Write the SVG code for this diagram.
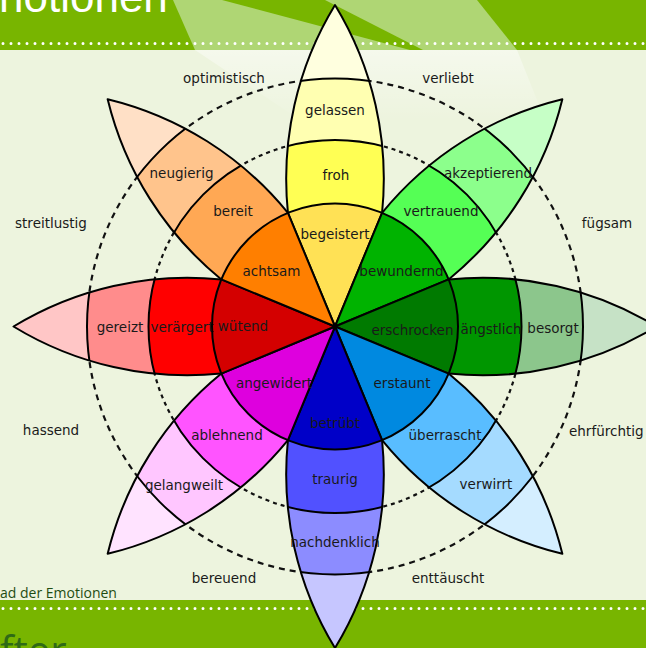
<svg xmlns="http://www.w3.org/2000/svg" xmlns:xlink="http://www.w3.org/1999/xlink" width="646" height="648" viewBox="0 0 646 648">
<style>
.l{font-family:"DejaVu Sans","Liberation Sans",sans-serif;font-size:13.5px;fill:#1a1a1a;text-anchor:middle}
.ol{fill:none;stroke:#000;stroke-width:2;stroke-linejoin:round}
.bd{stroke:#000;stroke-width:2}
.dash1{fill:none;stroke:#111;stroke-width:2.2;stroke-dasharray:6 5}
.dash2{fill:none;stroke:#111;stroke-width:2.2;stroke-dasharray:4 4}
.dots{stroke:#fff;stroke-width:3;stroke-linecap:round;stroke-dasharray:0 8}
</style>
<defs>
<path id="petal" d="M0,0 L113.64,-47.07 A334,334 0 0,1 321.5,0 A334,334 0 0,1 113.64,47.07 Z"/>
<path id="sector" d="M0,0 L113.64,-47.07 A123,123 0 0,1 113.64,47.07 Z"/>
<clipPath id="pc"><use xlink:href="#petal"/></clipPath>
<linearGradient id="sheen" x1="0" y1="0" x2="0" y2="1">
<stop offset="0" stop-color="#fff" stop-opacity="0.45"/>
<stop offset="1" stop-color="#fff" stop-opacity="0"/>
</linearGradient>
</defs>

<g id="background">
<rect width="646" height="648" fill="#edf4de"/>
<polygon points="195,50 517,50 545,120 300,120" fill="url(#sheen)"/>
<rect width="646" height="50" fill="#78b500"/>
<polygon points="173,0 222,0 410,50 195,50" fill="#afd674"/>
<polygon points="325,0 477,0 517,50 423,50" fill="#afd674"/>
<text x="-1" y="12" font-family="Liberation Sans,Arial,sans-serif" font-size="44" fill="#fff">notionen</text>
<line class="dots" x1="3" y1="43.5" x2="646" y2="43.5"/>
<rect y="600" width="646" height="48" fill="#78b500"/>
<line class="dots" x1="3" y1="608.5" x2="646" y2="608.5"/>
<text x="0" y="665" font-family="Open Sans,sans-serif" font-size="40" fill="#2f6a16">fter</text>
<text x="0" y="598" font-family="Open Sans,Liberation Sans,sans-serif" font-size="14" fill="#1f4d12">ad der Emotionen</text>
</g>

<g id="connectors">
<circle class="dash1" cx="335" cy="326.5" r="248"/>
<circle class="dash2" cx="335" cy="326.5" r="186.5"/>
</g>

<g id="joy">
<g transform="translate(335,326.5) rotate(-90)">
<g clip-path="url(#pc)">
<use xlink:href="#petal" fill="#ffffdf"/>
<circle class="bd" r="248" fill="#ffffb1"/>
<circle class="bd" r="186.5" fill="#ffff54"/>
<use xlink:href="#sector" fill="#ffe155"/>
</g>
<use xlink:href="#petal" class="ol"/>
</g>
<text class="l" x="335" y="239">begeistert</text>
<text class="l" x="336" y="180">froh</text>
<text class="l" x="335" y="115">gelassen</text>
</g>

<g id="trust">
<g transform="translate(335,326.5) rotate(-45)">
<g clip-path="url(#pc)">
<use xlink:href="#petal" fill="#c6ffc6"/>
<circle class="bd" r="248" fill="#8cff8c"/>
<circle class="bd" r="186.5" fill="#55ff55"/>
<use xlink:href="#sector" fill="#00b300"/>
</g>
<use xlink:href="#petal" class="ol"/>
</g>
<text class="l" x="401.5" y="276">bewundernd</text>
<text class="l" x="441" y="216">vertrauend</text>
<text class="l" x="488" y="178">akzeptierend</text>
</g>

<g id="fear">
<g transform="translate(335,326.5)">
<g clip-path="url(#pc)">
<use xlink:href="#petal" fill="#c6e2c6"/>
<circle class="bd" r="248" fill="#8cc68c"/>
<circle class="bd" r="186.5" fill="#009600"/>
<use xlink:href="#sector" fill="#007a00"/>
</g>
<use xlink:href="#petal" class="ol"/>
</g>
<text class="l" x="412.5" y="335">erschrocken</text>
<text class="l" x="491" y="334">ängstlich</text>
<text class="l" x="553" y="333">besorgt</text>
</g>

<g id="surprise">
<g transform="translate(335,326.5) rotate(45)">
<g clip-path="url(#pc)">
<use xlink:href="#petal" fill="#d4eeff"/>
<circle class="bd" r="248" fill="#a5dbff"/>
<circle class="bd" r="186.5" fill="#59bdff"/>
<use xlink:href="#sector" fill="#0089e0"/>
</g>
<use xlink:href="#petal" class="ol"/>
</g>
<text class="l" x="402" y="388">erstaunt</text>
<text class="l" x="445" y="440">überrascht</text>
<text class="l" x="486" y="489">verwirrt</text>
</g>

<g id="sadness">
<g transform="translate(335,326.5) rotate(90)">
<g clip-path="url(#pc)">
<use xlink:href="#petal" fill="#c6c6ff"/>
<circle class="bd" r="248" fill="#8c8cff"/>
<circle class="bd" r="186.5" fill="#5151ff"/>
<use xlink:href="#sector" fill="#0000c8"/>
</g>
<use xlink:href="#petal" class="ol"/>
</g>
<text class="l" x="335" y="428">betrübt</text>
<text class="l" x="335" y="484">traurig</text>
<text class="l" x="335" y="547">nachdenklich</text>
</g>

<g id="disgust">
<g transform="translate(335,326.5) rotate(135)">
<g clip-path="url(#pc)">
<use xlink:href="#petal" fill="#ffe3ff"/>
<circle class="bd" r="248" fill="#ffc6ff"/>
<circle class="bd" r="186.5" fill="#ff54ff"/>
<use xlink:href="#sector" fill="#de00de"/>
</g>
<use xlink:href="#petal" class="ol"/>
</g>
<text class="l" x="274" y="388">angewidert</text>
<text class="l" x="227" y="440">ablehnend</text>
<text class="l" x="184" y="490">gelangweilt</text>
</g>

<g id="anger">
<g transform="translate(335,326.5) rotate(180)">
<g clip-path="url(#pc)">
<use xlink:href="#petal" fill="#ffc6c6"/>
<circle class="bd" r="248" fill="#ff8c8c"/>
<circle class="bd" r="186.5" fill="#ff0000"/>
<use xlink:href="#sector" fill="#d40000"/>
</g>
<use xlink:href="#petal" class="ol"/>
</g>
<text class="l" x="243" y="331">wütend</text>
<text class="l" x="182" y="332">verärgert</text>
<text class="l" x="120" y="332">gereizt</text>
</g>

<g id="anticipation">
<g transform="translate(335,326.5) rotate(-135)">
<g clip-path="url(#pc)">
<use xlink:href="#petal" fill="#ffe0c6"/>
<circle class="bd" r="248" fill="#ffc48c"/>
<circle class="bd" r="186.5" fill="#ffa854"/>
<use xlink:href="#sector" fill="#ff7f00"/>
</g>
<use xlink:href="#petal" class="ol"/>
</g>
<text class="l" x="271.5" y="276">achtsam</text>
<text class="l" x="233" y="216">bereit</text>
<text class="l" x="181.5" y="178">neugierig</text>
</g>

<g id="core">
<circle cx="335" cy="326.5" r="123" class="ol"/>
</g>

<g id="dyads">
<text class="l" x="224" y="83">optimistisch</text>
<text class="l" x="448" y="83">verliebt</text>
<text class="l" x="51" y="228">streitlustig</text>
<text class="l" x="607" y="228">fügsam</text>
<text class="l" x="51" y="435">hassend</text>
<text class="l" x="569" y="436" style="text-anchor:start">ehrfürchtig</text>
<text class="l" x="224" y="583">bereuend</text>
<text class="l" x="448" y="583">enttäuscht</text>
</g>
</svg>
